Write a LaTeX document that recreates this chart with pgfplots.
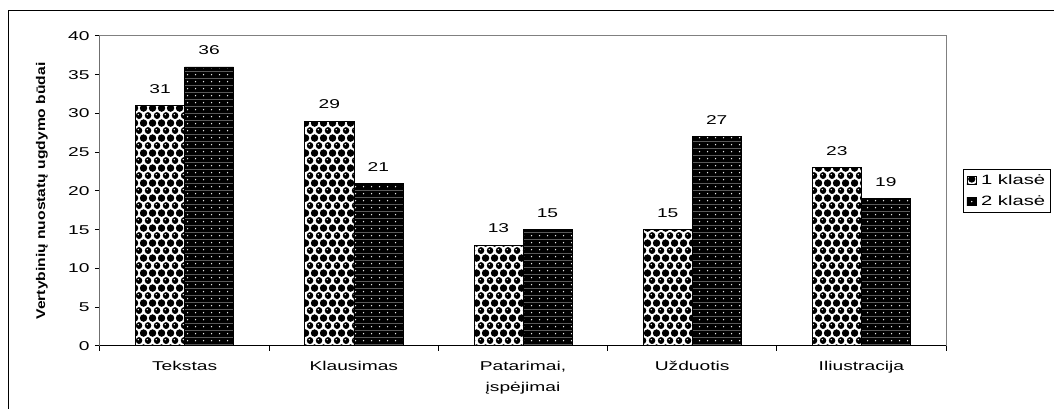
\documentclass[border=0pt]{standalone}
\usepackage{fontspec}
\setmainfont{Liberation Sans}
\usepackage{graphicx}
\usepackage{pgfplots}
\pgfplotsset{compat=1.18}
\usetikzlibrary{patterns.meta}

% the reference text is wide and flat: stretch it sideways
\newcommand{\wide}[1]{\scalebox{1.5}[1]{#1}}

% checker of black "spheres" on white (1 klase)
\tikzdeclarepattern{
  name=spheres, type=colored,
  bottom left={(0pt,0pt)}, top right={(9pt,15.4pt)},
  tile size={(9pt,15.4pt)},
  code={
    \fill[white] (0pt,0pt) rectangle (9pt,15.4pt);
    \fill[black] (0pt,0pt) circle (3.6pt);
    \fill[black] (9pt,0pt) circle (3.6pt);
    \fill[black] (0pt,15.4pt) circle (3.6pt);
    \fill[black] (9pt,15.4pt) circle (3.6pt);
    \fill[black] (4.5pt,7.7pt) circle (3.6pt);
    \fill[white] (3.6pt,8.6pt) circle (0.8pt);
  }
}
% white dots on black (2 klase)
\tikzdeclarepattern{
  name=blackdots, type=colored,
  bottom left={(0pt,0pt)}, top right={(8pt,7.3pt)},
  tile size={(8pt,7.3pt)},
  code={
    \fill[black] (0pt,0pt) rectangle (8pt,7.3pt);
    \fill[white] (4pt,3.65pt) circle (0.8pt);
  }
}

\pgfplotstableread{
idx  k1  k2
0    31  36
1    29  21
2    13  15
3    15  27
4    23  19
}\datatable

\begin{document}
\begin{tikzpicture}
  \fill[white] (-100pt,-63pt) rectangle (954pt,346pt);
  \begin{axis}[%
    at={(0pt,0pt)}, anchor=south west,
    scale only axis, width=846pt, height=310pt,
    ybar=0pt, bar width=49pt,
    xmin=-0.5, xmax=4.5, ymin=0, ymax=40,
    /pgf/number format/assume math mode=true,
    % y-axis
    ytick={0,5,...,40},
    yticklabel={\wide{\pgfmathprintnumber{\tick}}},
    yticklabel style={xshift=-2pt},
    % x-axis: ticks between the groups, names at the centres
    xtick={-0.5,0.5,1.5,2.5,3.5,4.5},
    xticklabels={,,,,,},
    extra x ticks={0,1,2,3,4},
    extra x tick labels={\wide{Tekstas},\wide{Klausimas},
      {\wide{Patarimai,}\\\wide{įspėjimai}},\wide{Užduotis},\wide{Iliustracija}},
    extra x tick style={major tick length=0pt,
      tick label style={align=center, yshift=-12pt}},
    tick align=outside, tick pos=left,
    major tick length=5pt,
    tick style={black, line width=1pt},
    axis line style={draw=gray, line width=1pt},
    every tick label/.append style={font=\fontsize{12.8}{21}\selectfont},
    ylabel={\scalebox{1.24}[1]{Vertybinių nuostatų ugdymo būdai}},
    every axis y label/.style={at={(axis description cs:-0.0686,0.5)},
      rotate=90, anchor=center,
      font=\bfseries\fontsize{12.6}{14}\selectfont},
    nodes near coords={\wide{\pgfmathprintnumber{\pgfplotspointmeta}}},
    every node near coord/.append style={font=\fontsize{12.8}{14}\selectfont,
      yshift=8.5pt, black},
    legend style={at={(axis description cs:1,0.5)}, anchor=west, xshift=17pt,
      draw=black, line width=1pt, inner sep=3pt,
      font=\fontsize{13.5}{16}\selectfont, cells={anchor=west},
      row sep=6pt,
      /tikz/every odd column/.append style={column sep=3pt}},
    legend image code/.code={%
      \draw[#1, line width=0.6pt] (2pt,-4pt) rectangle (11pt,4pt);},
    ]

    \addplot [draw=black, line width=0.6pt, pattern=spheres]
      table [x=idx, y=k1] {\datatable};
    \addplot [draw=black, line width=0.6pt, pattern=blackdots]
      table [x=idx, y=k2] {\datatable};
    \legend{\wide{1 klasė}, \wide{2 klasė}}

    \draw[black, line width=1pt] (rel axis cs:0,1) -- (rel axis cs:0,0) -- (rel axis cs:1,0);
  \end{axis}
  % outer chart frame
  \draw[black, line width=1pt] (-91pt,-80pt) -- (-91pt,335pt) -- (1000pt,335pt);
  \pgfresetboundingbox
  \useasboundingbox (-100pt,-63pt) rectangle (954pt,346pt);
\end{tikzpicture}
\end{document}
